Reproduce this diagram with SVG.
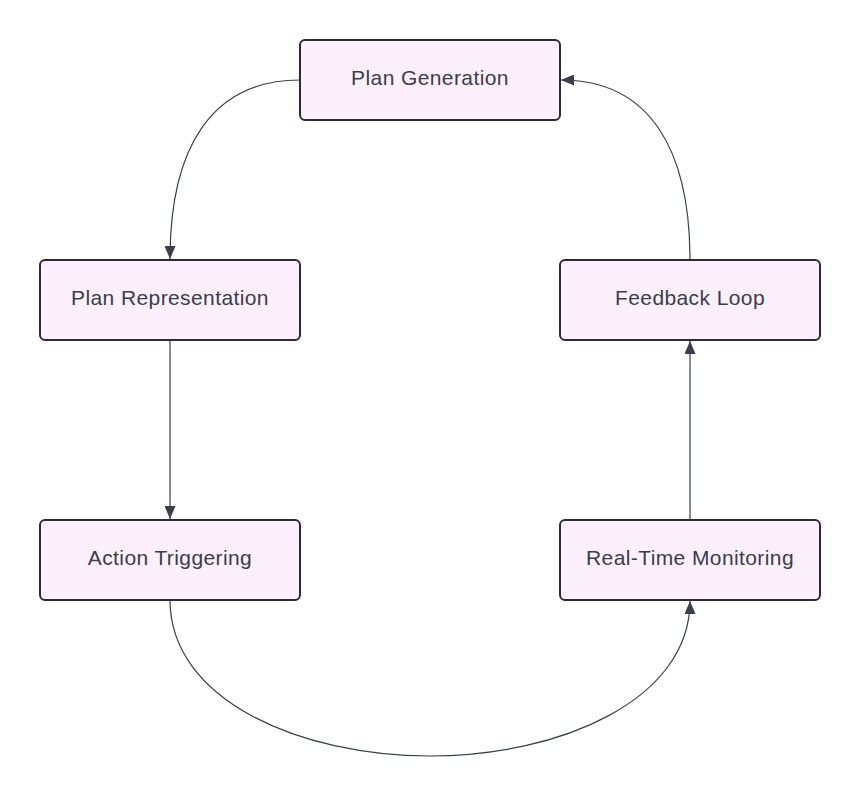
<svg xmlns="http://www.w3.org/2000/svg" width="860" height="797" viewBox="0 0 860 797">
<style>
.node rect{fill:#fdf0fd;stroke:#2b2b36;stroke-width:2}
.node text{font-family:"Liberation Sans",Arial,sans-serif;font-size:21px;fill:#3a3d4a;text-anchor:middle;letter-spacing:0.4px}
.edge{fill:none;stroke:#3a3f4b;stroke-width:1.2}
</style>
<defs>
<marker id="arr" viewBox="0 0 13 11" refX="13" refY="5.5" markerWidth="13" markerHeight="11" markerUnits="userSpaceOnUse" orient="auto">
<path d="M0,0 L13,5.5 L0,11 z" fill="#3a3f4b"/>
</marker>
</defs>
<rect width="860" height="797" fill="#ffffff"/>
<g id="connectors">
<path class="edge" d="M300,80 C210,80 170,150 170,259" marker-end="url(#arr)"/>
<path class="edge" d="M170,340 L170,519" marker-end="url(#arr)"/>
<path class="edge" d="M170,600 C170,700 300,756 430,756 C560,756 690,700 690,601" marker-end="url(#arr)"/>
<path class="edge" d="M690,520 L690,341" marker-end="url(#arr)"/>
<path class="edge" d="M690,260 C690,150 650,80 561,80" marker-end="url(#arr)"/>
</g>
<g id="plan-generation" class="node"><rect x="300" y="40" width="260" height="80" rx="5"/><text x="430" y="84.5">Plan Generation</text></g>
<g id="plan-representation" class="node"><rect x="40" y="260" width="260" height="80" rx="5"/><text x="170" y="304.5">Plan Representation</text></g>
<g id="feedback-loop" class="node"><rect x="560" y="260" width="260" height="80" rx="5"/><text x="690" y="304.5">Feedback Loop</text></g>
<g id="action-triggering" class="node"><rect x="40" y="520" width="260" height="80" rx="5"/><text x="170" y="564.5">Action Triggering</text></g>
<g id="real-time-monitoring" class="node"><rect x="560" y="520" width="260" height="80" rx="5"/><text x="690" y="564.5">Real-Time Monitoring</text></g>
</svg>
